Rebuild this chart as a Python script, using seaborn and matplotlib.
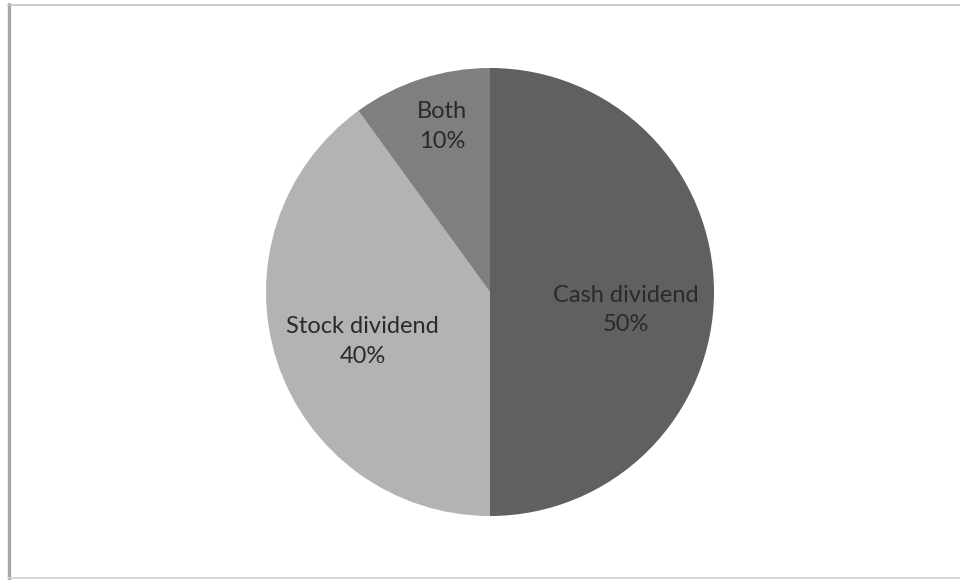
import numpy as np
import matplotlib
matplotlib.use("Agg")
import matplotlib.pyplot as plt
import seaborn as sns
from matplotlib.lines import Line2D

# Share of companies by type of dividend paid
categories = ["Cash dividend", "Stock dividend", "Both"]
shares = [50, 40, 10]
slice_colors = ["#606060", "#b3b3b3", "#7f7f7f"]
# label placement: distance from centre (fraction of radius) and turn from the slice mid-angle
label_radius = [0.61, 0.61, 0.77]
label_turn = [-7.6, 3.3, -1.9]

sns.set_theme(style="white")
plt.rcParams["font.family"] = ["Lato", "DejaVu Sans"]

fig = plt.figure(figsize=(9.6, 5.8), dpi=100)
fig.patch.set_facecolor("white")

# square axes holding the pie
ax = fig.add_axes([(490 - 224) / 960, 1 - (292 + 224) / 580, 448 / 960, 448 / 580])
wedges, _ = ax.pie(shares, colors=slice_colors, startangle=90, counterclock=False,
                   radius=1.0, wedgeprops=dict(linewidth=0))
ax.set_xlim(-1, 1)
ax.set_ylim(-1, 1)
ax.set_aspect("equal")
ax.axis("off")

for w, name, val, r, turn in zip(wedges, categories, shares, label_radius, label_turn):
    mid = np.deg2rad((w.theta1 + w.theta2) / 2 + turn)
    ax.text(r * np.cos(mid), r * np.sin(mid), f"{name}\n{val}%",
            ha="center", va="center", fontsize=17, color="#2a2a2a",
            linespacing=1.5)

# chart frame
fig.add_artist(Line2D([8.5 / 960, 8.5 / 960], [0, 1 - 4 / 580], transform=fig.transFigure,
                      color="#a8a8a8", linewidth=2.4))
fig.add_artist(Line2D([8 / 960, 1], [1 - 4.5 / 580, 1 - 4.5 / 580], transform=fig.transFigure,
                      color="#c4c4c4", linewidth=1.2))
fig.add_artist(Line2D([8 / 960, 1], [2.5 / 580, 2.5 / 580], transform=fig.transFigure,
                      color="#d0d0d0", linewidth=1.2))

fig.savefig("out.png", dpi=100, facecolor="white")
